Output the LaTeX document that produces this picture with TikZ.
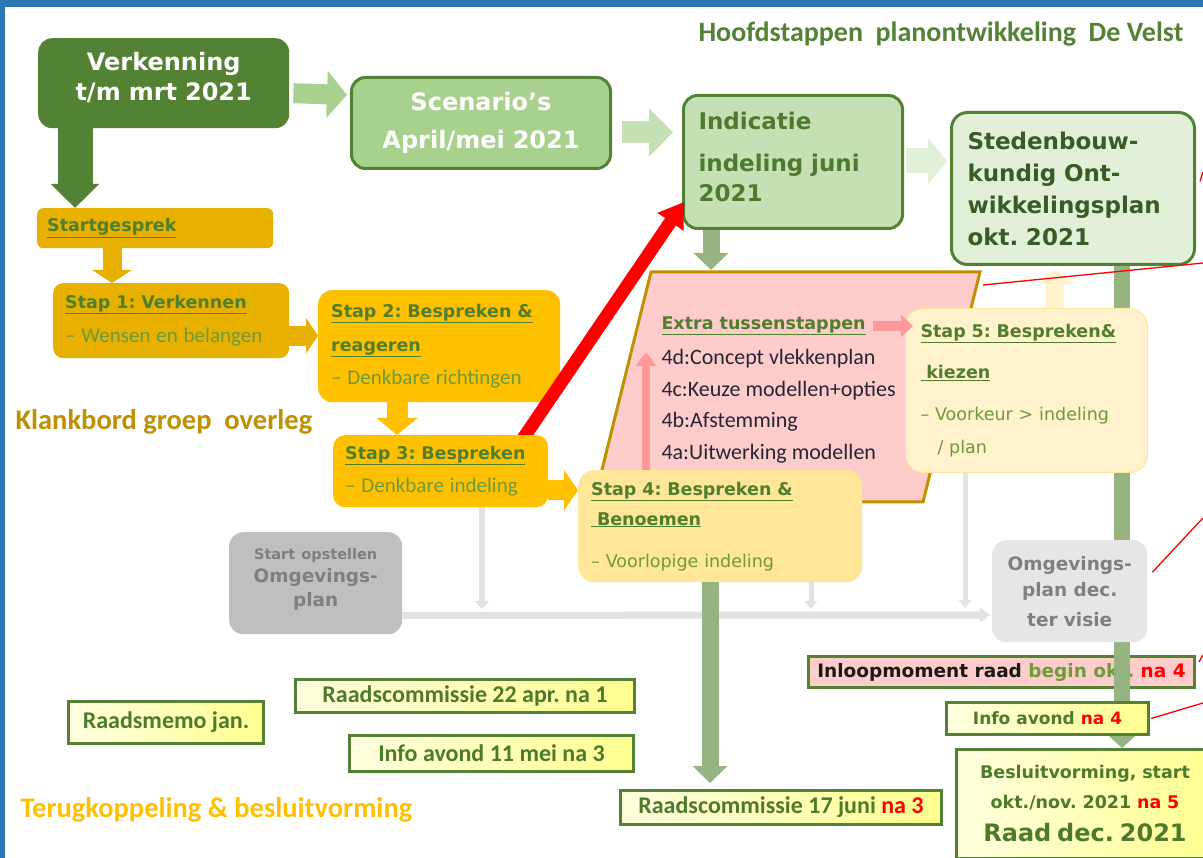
\documentclass[tikz,border=0pt]{standalone}
\usepackage{fontspec}
\setmainfont{DejaVu Sans}
\newfontfamily\calib{Carlito}
\usetikzlibrary{arrows.meta,calc}
\frenchspacing
\newcommand\fsz[2]{\fontsize{#1}{#2}\selectfont}
\definecolor{frameblue}{HTML}{2E75B6}
\definecolor{dkgreen}{HTML}{548235}
\definecolor{mgreen}{HTML}{A9D18E}
\definecolor{lgreen}{HTML}{C5E0B4}
\definecolor{vlgreen}{HTML}{E2F0D9}
\definecolor{txtgreen}{HTML}{4F7F2C}
\definecolor{bodygreen}{HTML}{6E9A3C}
\definecolor{darktxt}{HTML}{3A5A26}
\definecolor{indtxt}{HTML}{4E7A30}
\definecolor{barg}{HTML}{96B482}
\definecolor{gold}{HTML}{FFC000}
\definecolor{goldb}{HTML}{E8B100}
\definecolor{gold4}{HTML}{FFE699}
\definecolor{gold5}{HTML}{FFF2CC}
\definecolor{pinkf}{HTML}{FFCCCC}
\definecolor{pinka}{HTML}{FF9999}
\definecolor{pborder}{HTML}{BF9000}
\definecolor{grayb}{HTML}{BFBFBF}
\definecolor{grayt}{HTML}{7F7F7F}
\definecolor{grayl}{HTML}{E6E6E6}
\definecolor{grayline}{HTML}{E2E2E2}
\definecolor{ylight}{HTML}{FFFFE0}
\definecolor{ydark}{HTML}{FFFF90}
\definecolor{bgreen}{HTML}{4E7A2B}
\definecolor{listtxt}{HTML}{262633}
\newcommand\bodyc{\calib\mdseries\fsz{21}{21}\color{bodygreen}}
\newcommand\dvbody{\mdseries\fsz{17.5}{17.5}\color{bodygreen}}
\tikzset{
  box/.style={rectangle, anchor=north west, inner sep=0pt},
  barrow/.style n args={4}{line width=#1, draw=#2, -{Triangle[width=#3,length=#4]}},
  memobox/.style={box, draw=dkgreen, line width=3pt, left color=ylight, right color=ydark, align=center, text=bgreen},
  memofont/.style={font=\calib\bfseries\fsz{24}{24}},
  steptitle/.style={font=\bfseries\fsz{17.5}{#1}, text=txtgreen, align=left},
  redline/.style={draw=red, line width=1.3pt},
}
\begin{document}
\begin{tikzpicture}[x=1pt,y=-1pt, line cap=butt]
\useasboundingbox (0,0) rectangle (1203,858);
\fill[white] (0,0) rectangle (1203,858);
\fill[frameblue] (0,0) rectangle (1203,7);
\fill[frameblue] (0,0) rectangle (5,858);

% title
\node[anchor=west, font=\calib\bfseries\fsz{28}{28}, text=dkgreen] (title) at (695,34) {Hoofdstappen~~planontwikkeling~~De Velst};

% main top boxes
\node[box, rounded corners=14pt, fill=dkgreen, minimum width=251pt, minimum height=90pt, text width=251pt, text depth=43pt, align=center, text=white, font=\bfseries\fsz{24}{30}] (verk) at (38,38) {Verkenning\\t/m mrt 2021};
\node[box, rounded corners=14pt, fill=mgreen, draw=dkgreen, line width=3pt, minimum width=259pt, minimum height=91pt, text width=259pt, align=center, text=white, font=\bfseries\fsz{24}{38}] (scen) at (350,76) {Scenario’s\\April/mei 2021};

% parallelogram coordinates
\coordinate (ptl) at (651,272);
\coordinate (ptr) at (980,272);
\coordinate (pbr) at (923,502);
\coordinate (pbl) at (594,502);

% gray boxes
\node[box, rounded corners=14pt, fill=grayb, minimum width=173pt, minimum height=102pt, text width=173pt, text depth=58.5pt, align=center, text=grayt, font=\bfseries\fsz{18.5}{23.5}] (gray1) at (229,532) {{\fsz{14.5}{14.5}Start opstellen}\\Omgevings-\\plan};

% top boxes
\node[box, rounded corners=14pt, fill=lgreen, draw=dkgreen, line width=3pt, minimum width=219pt, minimum height=133pt, inner xsep=15pt, text width=189pt, text depth=82pt, align=left, text=indtxt, font=\bfseries\fsz{23}{30}] (ind) at (682,94) {Indicatie\\[12pt]indeling juni\\2021};
\node[box, rounded corners=16pt, fill=vlgreen, draw=dkgreen, line width=3pt, minimum width=243pt, minimum height=152pt, inner xsep=16pt, text width=211pt, align=left, text=darktxt, font=\bfseries\fsz{23}{32}] (sted) at (950,111) {Stedenbouw-\\kundig Ont-\\wikkelingsplan\\okt. 2021};

\coordinate (omgin) at (990,615);
\draw[grayline, line width=7pt, -{Triangle[width=14pt,length=10pt]}] ($(gray1.south east)+(0,-19)$) -- (omgin);

\coordinate (g3end) at (482,609);
\coordinate (g4end) at (811,609);
\coordinate (g5end) at (965,608);

% parallelogram
\draw[fill=pinkf, draw=pborder, line width=3pt, line join=miter] (ptl) -- (ptr) -- (pbr) -- (pbl) -- cycle;

% gold chain
\node[box, rounded corners=6pt, fill=goldb, minimum width=236pt, minimum height=40pt, inner xsep=10pt, text width=216pt, steptitle=20] (startg) at (37,208) {\underline{Startgesprek}};
\node[box, rounded corners=10pt, fill=goldb, minimum width=236pt, minimum height=75pt, inner xsep=12pt, text width=212pt, steptitle=34] (stap1) at (53,283) {\underline{Stap 1: Verkennen}\\{\bodyc – Wensen en belangen}};
\node[box, rounded corners=14pt, fill=gold, minimum width=242pt, minimum height=112pt, inner xsep=13pt, text width=216pt, steptitle=33.5] (stap2) at (318,290) {\underline{Stap 2: Bespreken \&}\\\underline{reageren}\\{\bodyc – Denkbare richtingen}};

% red arrow (behind stap 3)
\coordinate (redstart) at (518,446);
\draw[line width=13pt, draw=red, -{Triangle[width=30pt,length=24pt]}] (redstart) -- ($(ind.south west)+(2,-28)$);

\node[box, rounded corners=12pt, fill=gold, minimum width=215pt, minimum height=72pt, inner xsep=12pt, text width=191pt, steptitle=33] (stap3) at (333,435) {\underline{Stap 3: Bespreken}\\{\bodyc – Denkbare indeling}};

\draw[grayline, line width=6pt, -{Triangle[width=14pt,length=8pt]}] ([xshift=149pt]stap3.south west) -- (g3end);

\node[box, rounded corners=16pt, fill=gold4, minimum width=284pt, minimum height=112pt, inner xsep=13pt, text width=258pt, steptitle=30] (stap4) at (578,470) {\underline{Stap 4: Bespreken \&}\\\underline{\ Benoemen}\\[12pt]{\dvbody – Voorlopige indeling}};
\draw[grayline, line width=5pt, -{Triangle[width=12pt,length=8pt]}] ([xshift=233pt]stap4.south west) -- (g4end);

\node[memobox, memofont, minimum width=321pt, minimum height=34pt] (rc17) at (619,789) {Raadscommissie 17 juni \textcolor{red}{na 3}};
\draw[barrow={17pt}{barg}{34pt}{17pt}] ([xshift=132pt]stap4.south west) -- ($(rc17.north west)+(91,-6)$);

\node[box, draw=dkgreen, line width=3pt, fill=pinkf, minimum width=386pt, minimum height=31pt, align=center, font=\bfseries\fsz{18.5}{18.5}] (inloop) at (807,655) {\textcolor{black!90}{Inloopmoment raad} \textcolor{bodygreen}{begin okt.} \textcolor{red}{na 4}};
\node[memobox, minimum width=257pt, minimum height=109pt, text width=257pt, font=\bfseries\fsz{17.5}{30}] (bes) at (955,748) {Besluitvorming, start\\okt./nov. 2021 \textcolor{red}{na 5}\\[3pt]{\fsz{24}{24}Raad dec. 2021}};

\draw[barrow={16pt}{barg}{32pt}{15pt}] ([xshift=172pt]sted.south west) -- ($(bes.north west)+(167,0)$);
\begin{scope}
\clip (inloop.north west) rectangle (inloop.south east);
\fill[barg, opacity=0.55] (1114,650) rectangle (1130,690);
\end{scope}

\node[memobox, minimum width=202pt, minimum height=32pt, font=\bfseries\fsz{17}{17}] (info4) at (945,701) {Info avond \textcolor{red}{na 4}};

% Stap 5
\node[box, rounded corners=18pt, fill=gold5, draw=gold4, line width=1pt, minimum width=242pt, minimum height=164pt, inner xsep=15pt, text width=212pt, steptitle=41.5] (stap5) at (905,308) {\underline{Stap 5: Bespreken\&}\\\underline{\ kiezen}\\{\dvbody – Voorkeur > indeling}\\[-8pt]{\dvbody\hspace*{17pt}/ plan}};
\draw[grayline, line width=5pt, -{Triangle[width=12pt,length=8pt]}] ([xshift=60pt]stap5.south west) -- (g5end);

% Omgevingsplan box (on top of the bar)
\node[box, rounded corners=14pt, fill=grayl, minimum width=155pt, minimum height=102pt, text width=155pt, align=center, text=grayt, font=\bfseries\fsz{18.5}{26}] (omg) at (992,540) {Omgevings-\\plan dec.\\[4pt]ter visie};

% top arrows
\draw[barrow={35pt}{dkgreen}{47pt}{24pt}] ([xshift=37pt]verk.south west) -- ([xshift=38pt]startg.north west);
\draw[barrow={20pt}{mgreen}{46pt}{20pt}] ($(verk.east)+(4,10)$) -- ($(scen.west)+(-3,-28)$);
\draw[barrow={22pt}{lgreen}{47pt}{24pt}] ($(scen.east)+(10,9.5)$) -- ($(ind.west)+(-9,-29.5)$);
\draw[barrow={25pt}{vlgreen}{45pt}{19pt}] ($(ind.east)+(2,-1)$) -- ($(sted.west)+(-3,-27.5)$);
\draw[barrow={17pt}{barg}{34pt}{17pt}] ([xshift=29pt]ind.south west) -- ($(ind.south west)+(29,40)$);

% gold arrows
\draw[barrow={19pt}{goldb}{39pt}{13pt}] ([xshift=75pt]startg.south west) -- ([xshift=59pt]stap1.north west);
\draw[barrow={20pt}{goldb}{35pt}{12pt}] ($(stap1.east)+(0,15)$) -- ($(stap2.west)+(0,-10.5)$);
\draw[barrow={21pt}{gold}{40pt}{17pt}] ([xshift=79pt]stap2.south west) -- ([xshift=64pt]stap3.north west);
\draw[barrow={20pt}{gold}{40pt}{14pt}] ($(stap3.east)+(0,19)$) -- ($(stap4.west)+(0,-36)$);

% parallelogram texts
\node[anchor=west, font=\bfseries\fsz{17.5}{17.5}, text=txtgreen] (xtitle) at (658,326) {\underline{Extra tussenstappen}};
\node[anchor=north west, align=left, font=\calib\fsz{22}{31.5}, text=listtxt] (xlist) at (658,346) {4d:Concept vlekkenplan\\4c:Keuze modellen+opties\\4b:Afstemming\\4a:Uitwerking modellen};

% pink arrows
\draw[barrow={8pt}{pinka}{20pt}{14pt}] ([xshift=68pt]stap4.north west) -- ($(stap4.north west)+(68,-118)$);
\draw[barrow={10pt}{pinka}{22pt}{12pt}] ($(xtitle.east)+(4,0)$) -- ($(xtitle.east -| stap5.west)+(8,0)$);
% yellow arrow up
\draw[barrow={18pt}{gold5}{34pt}{15pt}] ([xshift=150pt]stap5.north west) -- ($(sted.south west)+(105,3)$);

% bottom memo boxes
\node[memobox, memofont, minimum width=195pt, minimum height=42pt] (memo) at (67,700) {Raadsmemo jan.};
\node[memobox, memofont, minimum width=339pt, minimum height=33pt] (rc22) at (294,678) {Raadscommissie 22 apr. na 1};
\node[memobox, memofont, minimum width=284pt, minimum height=36pt] (info11) at (348,734) {Info avond 11 mei na 3};

% red thin lines
\coordinate (e1) at (1203,263);
\coordinate (e2) at (1203,172);
\coordinate (e3) at (1203,518);
\coordinate (e4) at (1203,655);
\coordinate (e5) at (1203,703);
\draw[redline] ($(ptr)+(3,13)$) -- (e1);
\draw[redline] ($(sted.east)+(4,-7)$) -- (e2);
\draw[redline] ($(omg.east)+(5,-19)$) -- (e3);
\draw[redline] ($(inloop.east)+(3,-10)$) -- (e4);
\draw[redline] ($(info4.east)+(1,0)$) -- (e5);

% side labels
\node[anchor=west, font=\calib\bfseries\fsz{28.5}{28.5}, text=pborder] (klank) at (12,422) {Klankbord groep~~overleg};
\node[anchor=west, font=\calib\bfseries\fsz{28.5}{28.5}, text=gold] (terug) at (17,810) {Terugkoppeling \& besluitvorming};
\end{tikzpicture}
\end{document}
